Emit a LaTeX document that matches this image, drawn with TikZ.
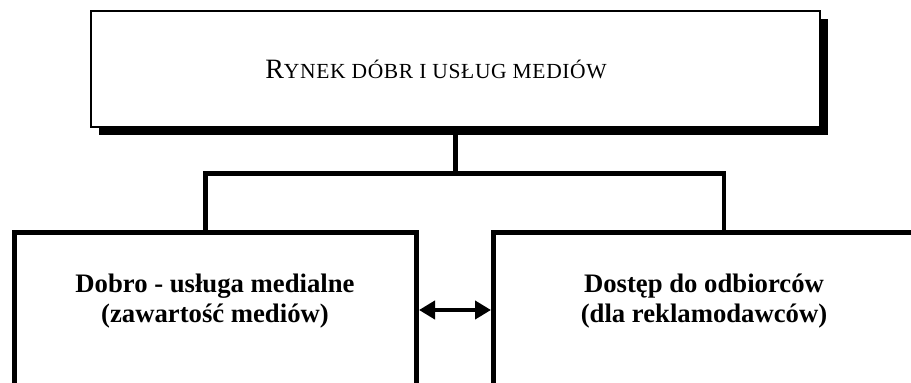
\documentclass[tikz,border=0pt]{standalone}
\usepackage{fontspec}
\setmainfont{Liberation Serif}
\usetikzlibrary{arrows.meta,shadows}
\newcommand\mysmcp[1]{{\fontsize{21.5}{24}\selectfont\addfontfeatures{LetterSpace=3}#1}}
\begin{document}
\begin{tikzpicture}[x=1pt,y=-1pt,
  topbox/.style={draw, line width=1.5pt, fill=white, inner sep=0pt,
    drop shadow={shadow xshift=8pt, shadow yshift=-8pt, opacity=1, fill=black}},
  bbox/.style={draw, line width=5pt, fill=white, inner sep=0pt},
  conn/.style={line width=4.5pt, line join=miter},
  lbl/.style={font=\bfseries\fontsize{26.7}{30}\selectfont, align=center, anchor=base},
  dbl/.style={line width=4pt, {Triangle[length=16pt,width=18pt]}-{Triangle[length=16pt,width=18pt]}}
]
\clip (0,0) rectangle (911,383);
\fill[white] (0,0) rectangle (911,383);
% top box
\node[topbox, minimum width=729pt, minimum height=116pt] (T) at (455.5,69) {};
\node[anchor=base, font=\fontsize{28}{30}\selectfont] (Tt) at (436,78)
  {R\mysmcp{YNEK DÓBR I USŁUG MEDIÓW}};
% bottom boxes
\node[bbox, minimum width=402.5pt, minimum height=187.5pt] (L) at (215.25,326.25) {};
\node[bbox, minimum width=421pt, minimum height=187.5pt] (R) at (704,326.25) {};
\node[lbl] (Lt) at (215,322) {Dobro - usługa medialne\\(zawartość mediów)};
\node[lbl] (Rt) at (704,322) {Dostęp do odbiorców\\(dla reklamodawców)};
% connectors
\coordinate (J) at (455.5,173.5);
\coordinate (LJ) at (205.5,173.5);
\coordinate (RJ) at (724,173.5);
\draw[conn] (T.south) -- (J);
\draw[conn] (LJ |- L.north) -- (LJ) -- (RJ) -- (RJ |- R.north);
\coordinate (A) at (455,310);
\draw[dbl] (L.east |- A) -- (R.west |- A);
\end{tikzpicture}
\end{document}
